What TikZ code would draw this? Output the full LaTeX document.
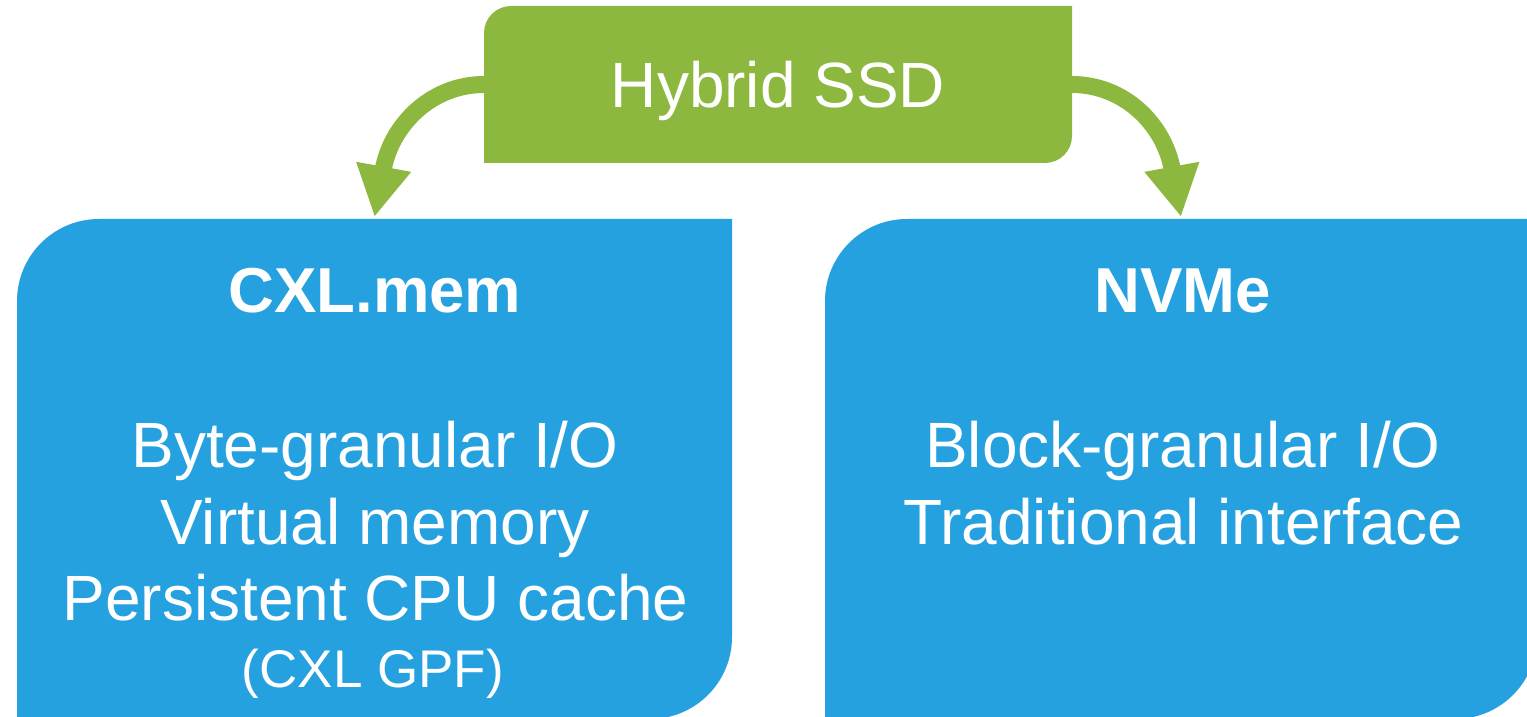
\documentclass[tikz,border=0pt]{standalone}
\usepackage{fontspec}
\setmainfont{Liberation Sans}
\usetikzlibrary{arrows.meta,calc}
\definecolor{boxblue}{RGB}{38,161,224}
\definecolor{boxgreen}{RGB}{141,184,63}
\newcommand\diagcornerbox[3]{%
  \fill[#3] (#1.south west) -- ([yshift=-#2]#1.north west)
    arc[start angle=180,end angle=90,radius=#2] -- (#1.north east)
    -- ([yshift=#2]#1.south east) arc[start angle=0,end angle=-90,radius=#2] -- cycle;}
\begin{document}
\begin{tikzpicture}[x=1pt,y=1pt,
  area/.style={rectangle, inner sep=0pt, outer sep=0pt},
  titletext/.style={anchor=base, text=white, inner sep=0pt, font=\bfseries\fontsize{63.5}{64}\selectfont},
  bodytext/.style={anchor=base, text=white, inner sep=0pt, font=\fontsize{64}{64}\selectfont},
  smalltext/.style={anchor=base, text=white, inner sep=0pt, font=\fontsize{53}{53}\selectfont},
  connector/.style={draw=boxgreen, line width=17pt, -{Triangle[length=51pt,width=52pt,fill=boxgreen]}}]
\useasboundingbox (0,0) rectangle (1527,716);
% shape anchors
\node[area, minimum width=588pt, minimum height=157pt] (hy) at (778,631.5) {};
\node[area, minimum width=715pt, minimum height=500pt] (cxl) at (374.5,247) {};
\node[area, minimum width=712pt, minimum height=500pt] (nvme) at (1181,247) {};
% filled shapes
\diagcornerbox{hy}{27pt}{boxgreen}
\diagcornerbox{cxl}{82pt}{boxblue}
\diagcornerbox{nvme}{82pt}{boxblue}
% connectors
\draw[connector] (hy.west) .. controls +(-52,0) and +(17,93) .. ([yshift=2pt]cxl.north);
\draw[connector] (hy.east) .. controls +(52,0) and +(-17,93) .. ([yshift=2pt]nvme.north);
% texts
\node[bodytext] (hytext) at (778,608) {Hybrid SSD};
\node[titletext] (cxltitle) at (375,403) {CXL.mem};
\node[bodytext] (cxlone) at (375,248) {Byte-granular I/O};
\node[bodytext] (cxltwo) at (375,172) {Virtual memory};
\node[bodytext] (cxlthree) at (375.5,96) {Persistent CPU cache};
\node[smalltext] (cxlfour) at (373,29) {(CXL GPF)};
\node[titletext] (nvmetitle) at (1183,403) {NVMe};
\node[bodytext] (nvmeone) at (1183,248) {Block-granular I/O};
\node[bodytext] (nvmetwo) at (1183.5,172) {Traditional interface};
\end{tikzpicture}
\end{document}
